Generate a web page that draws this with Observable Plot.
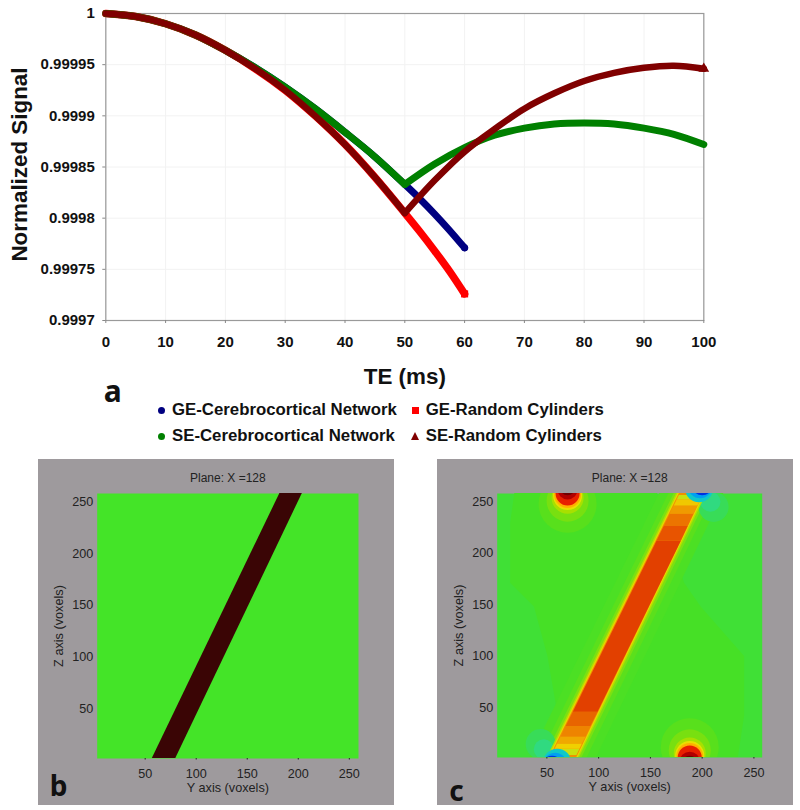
<!DOCTYPE html>
<html>
<head>
<meta charset="utf-8">
<script src="https://cdn.jsdelivr.net/npm/d3@7"></script>
<script src="https://cdn.jsdelivr.net/npm/@observablehq/plot@0.6"></script>
<style>
  html, body { margin: 0; padding: 0; background: #fff; }
  #page { position: relative; width: 800px; height: 810px; overflow: hidden; }
  .legend { position: absolute; font: bold 16.8px "Liberation Sans", Arial, sans-serif; color: #111; line-height: 20px; white-space: nowrap; }
  .sw { position: absolute; }
</style>
</head>
<body>
<div id="page"></div>
<script>
// ---- panel a ----
const teEarly = [0, 5, 10, 15, 20, 25, 30, 35, 40, 45, 50];
const cylEarly = [1, 0.999997, 0.99999, 0.999979, 0.999964, 0.999946, 0.999925, 0.9999, 0.999872, 0.99984, 0.999805];
const netEarly = [1, 0.999997, 0.99999, 0.999979, 0.999964, 0.999947, 0.999928, 0.999907, 0.999884, 0.99986, 0.999833];

const teGE = [50, 52.5, 55, 57.5, 60];
const geNetLate = [0.999833, 0.999819, 0.999804, 0.999788, 0.999771];
const geCylLate = [0.999805, 0.999787, 0.999768, 0.999748, 0.999726];

const teSE = [50, 55, 60, 65, 70, 75, 80, 85, 90, 95, 100];
const seNetLate = [0.999833, 0.999853, 0.999869, 0.999881, 0.999888, 0.999892, 0.999893, 0.999892, 0.999888, 0.999882, 0.999872];
const seCylLate = [0.999805, 0.999837, 0.999865, 0.999887, 0.999907, 0.999922, 0.999934, 0.999942, 0.999947, 0.999949, 0.999946];

const xTicksA = [0, 10, 20, 30, 40, 50, 60, 70, 80, 90, 100];
const yTicksA = [0.9997, 0.99975, 0.9998, 0.99985, 0.9999, 0.99995, 1];
const yTickLabelsA = ["0.9997", "0.99975", "0.9998", "0.99985", "0.9999", "0.99995", "1"];

const colBlue = "#000080", colRed = "#ff0000", colGreen = "#008000", colMaroon = "#800000";

// ---- panels b, c ----
const ticksVoxels = [50, 100, 150, 200, 250];
const bandZ = [2, 258];
const bBandLeft = [57, 182];
const bBandRight = [80, 204];
const cBandLeft = [54, 179];
const cBandRight = [78, 201];

const coreZ     = [4, 10, 15, 22, 32, 46, 212, 226, 238, 246, 252, 256];
const coreLeft  = [55, 58, 60.3, 63.8, 68.6, 75.5, 156.5, 163.3, 169.2, 173.1, 176, 178];
const coreRight = [79, 81.9, 84.3, 87.8, 92.6, 99.5, 180, 186.5, 192, 196, 199, 201];
const coreFill  = ["#c8e010", "#f0d000", "#f0a800", "#ee8400", "#e86400", "#e24000", "#e85400", "#ec7400", "#f09a00", "#f0c800", "#c8e010"];

const haloPad  = [20, 11, 6, 3.6, 2.2, 1];
const haloFill = ["#4ce024", "#5be01c", "#7ce012", "#b0e000", "#e8d800", "#f09000"];

const lobeZ     = [258, 229, 171, 148, 100, 42, 2];
const lobeLeft  = [19, 15, 15, 38, 51, 61, 62];
const lobeRight = [157, 164, 183, 199, 241, 241, 235];

const warmInset = [10, 7, 4, 2, 1, 0, -4, -6];
const warmRadius = [29, 21, 16, 14.5, 13.5, 12, 10, 8];
const warmFill = ["#58e01c", "#78e010", "#a8e000", "#e8e000", "#ffb000", "#e82000", "#b00000", "#700000"];
const warmCentres = [[70, 258, -1], [188, 2, 1]];

const coldHaloX = [[211, 208], [44, 47]];
const coldHaloInset = [13, 8];
const coldHaloRadius = [15, 10];
const coldHaloFill = ["#38dc58", "#30da80"];

const coldCoreX = [[197, 198, 200], [60, 58, 55]];
const coldCoreInset = [-5, -7, -9];
const coldCoreRadius = [14, 12, 11];
const coldCoreFill = ["#10c8c8", "#00a0f0", "#0030e0"];

const page = document.getElementById("page");
const sans = '"Liberation Sans", Arial, sans-serif';

function toRows(te, vals) { return te.map((t, i) => ({t, v: vals[i]})); }

function line(te, vals, stroke, strokeWidth = 7) {
  return Plot.line(toRows(te, vals), {x: "t", y: "v", stroke, strokeWidth, curve: "catmull-rom", strokeLinecap: "round"});
}

const plotA = Plot.plot({
  width: 800, height: 410,
  marginLeft: 105.3, marginRight: 96.7, marginTop: 13, marginBottom: 90,
  style: {position: "absolute", left: "0px", top: "0px", fontFamily: sans, background: "transparent", overflow: "visible"},
  x: {domain: [0, 100]},
  y: {domain: [0.9997, 1]},
  marks: [
    Plot.gridX(xTicksA, {stroke: "#f2f2f2", strokeOpacity: 1}),
    Plot.gridY(yTicksA, {stroke: "#f2f2f2", strokeOpacity: 1}),
    Plot.frame({stroke: "#9a9a9a", strokeWidth: 1.2}),
    Plot.axisX({ticks: xTicksA, tickSize: 3, tickPadding: 13, label: null, fontSize: 15, fontWeight: "bold", fill: "#111", stroke: "#888"}),
    Plot.axisY({ticks: yTicksA, tickFormat: d => yTickLabelsA[yTicksA.indexOf(d)], tickSize: 3, tickPadding: 8, label: null, fontSize: 15, fontWeight: "bold", fill: "#111", stroke: "#888"}),
    line(teEarly.concat(teGE.slice(1)), netEarly.concat(geNetLate.slice(1)), colBlue),
    Plot.dot([[60, geNetLate[4]]], {x: "0", y: "1", r: 3.5, fill: colBlue}),
    line(teEarly.concat(teGE.slice(1)), cylEarly.concat(geCylLate.slice(1)), colRed, 7.5),
    Plot.dot([[60, geCylLate[4]]], {x: "0", y: "1", r: 4, symbol: "square", fill: colRed}),
    line(teEarly, netEarly, colGreen),
    line(teSE, seNetLate, colGreen),
    line(teEarly, cylEarly, colMaroon, 6.5),
    line(teSE, seCylLate, colMaroon, 6.5),
    Plot.dot([[100, seCylLate[10]]], {x: "0", y: "1", r: 4, symbol: "triangle", fill: colMaroon}),
    Plot.text(["Normalized Signal"], {text: d => d, frameAnchor: "left", textAnchor: "middle", lineAnchor: "middle", rotate: -90, dx: -86, dy: -2.5, fontSize: 22.4, fontWeight: "bold", fill: "#111"}),
    Plot.text(["TE (ms)"], {text: d => d, frameAnchor: "bottom", textAnchor: "middle", lineAnchor: "middle", dy: 56, fontSize: 22.4, fontWeight: "bold", fill: "#111"}),
    Plot.text(["a"], {text: d => d, frameAnchor: "bottom-left", textAnchor: "middle", lineAnchor: "middle", dx: 7, dy: 72, fontSize: 30, fontWeight: "bold", fontFamily: '"Noto Sans", sans-serif', fill: "#111"})
  ]
});
page.appendChild(plotA);

function panelFurniture(letter, letterDx, letterDy) {
  return [
    Plot.axisX({ticks: ticksVoxels, tickSize: 1.5, tickPadding: 9, label: null, fontSize: 12.6, fill: "#222", stroke: "#222"}),
    Plot.axisY({ticks: ticksVoxels, tickSize: 0, tickPadding: 4, label: null, fontSize: 12.6, fill: "#222"}),
    Plot.text(["Plane: X =128"], {text: d => d, frameAnchor: "top", textAnchor: "middle", lineAnchor: "middle", dy: -15, fontSize: 12, fill: "#222"}),
    Plot.text(["Y axis (voxels)"], {text: d => d, frameAnchor: "bottom", textAnchor: "middle", lineAnchor: "middle", dy: 29, fontSize: 12.7, fill: "#222"}),
    Plot.text(["Z axis (voxels)"], {text: d => d, frameAnchor: "left", textAnchor: "middle", lineAnchor: "middle", rotate: -90, dx: -38.5, fontSize: 12.7, fill: "#222"}),
    Plot.text([letter], {text: d => d, frameAnchor: "bottom-left", textAnchor: "middle", lineAnchor: "middle", dx: letterDx, dy: letterDy, fontSize: 28, fontWeight: "bold", fontFamily: '"Noto Sans", sans-serif', fill: "#111"})
  ];
}

function panel(marks, box, margins, xDomain) {
  return Plot.plot({
    width: box[2], height: box[3],
    marginLeft: margins[0], marginRight: margins[1], marginTop: margins[2], marginBottom: margins[3],
    style: {position: "absolute", left: box[0] + "px", top: box[1] + "px", fontFamily: sans, background: "#9e9a9d", overflow: "visible"},
    x: {domain: xDomain},
    y: {domain: [2, 258]},
    marks
  });
}

const rect = fill => Plot.frame({fill, stroke: "none"});

const plotB = panel([
  rect("#44e428"),
  Plot.areaX(bandZ.map((z, i) => ({z, l: bBandLeft[i], r: bBandRight[i]})), {y: "z", x1: "l", x2: "r", fill: "#3a0505"}),
  ...panelFurniture("b", -38.7, 29)
], [38, 459, 356, 346], [58.7, 36, 34, 47], [3, 259]);
page.appendChild(plotB);

const ringMarks = [];
warmCentres.forEach(([x, edge, sign]) => {
  warmInset.forEach((inset, i) => {
    ringMarks.push(Plot.dot([{x, z: edge + sign * inset}], {x: "x", y: "z", r: warmRadius[i], fill: warmFill[i], clip: true}));
  });
});

function coldDots(xsByCorner, insets, radii, fills) {
  const out = [];
  xsByCorner.forEach((xs, c) => {
    const edge = c === 0 ? 258 : 2, sign = c === 0 ? -1 : 1;
    xs.forEach((x, i) => {
      out.push(Plot.dot([{x, z: edge + sign * insets[i]}], {x: "x", y: "z", r: radii[i], fill: fills[i], clip: true}));
    });
  });
  return out;
}

const haloMarks = haloPad.map((pad, i) =>
  Plot.areaX(bandZ.map((z, k) => ({z, l: cBandLeft[k] - pad, r: cBandRight[k] + pad})), {y: "z", x1: "l", x2: "r", fill: haloFill[i], clip: true})
);
const coreMarks = coreFill.map((fill, i) =>
  Plot.areaX([i, i + 1].map(k => ({z: coreZ[k], l: coreLeft[k], r: coreRight[k]})), {y: "z", x1: "l", x2: "r", fill, clip: true})
);

const plotC = panel([
  rect("#40e036"),
  Plot.areaX(lobeZ.map((z, i) => ({z, l: lobeLeft[i], r: lobeRight[i]})), {y: "z", x1: "l", x2: "r", fill: "#46e026", clip: true}),
  ...ringMarks,
  ...haloMarks.slice(0, 3),
  ...coldDots(coldHaloX, coldHaloInset, coldHaloRadius, coldHaloFill),
  ...haloMarks.slice(3),
  ...coreMarks,
  ...coldDots(coldCoreX, coldCoreInset, coldCoreRadius, coldCoreFill),
  ...panelFurniture("c", -40.7, 35)
], [437, 459, 356, 346], [59.7, 31.3, 34, 48], [2, 258]);
page.appendChild(plotC);

// ---- legend ----
const legendLabels = [
  ["GE-Cerebrocortical Network", 172, 400, "circle", colBlue, 161, 410],
  ["SE-Cerebrocortical Network", 172, 426, "circle", colGreen, 161, 436],
  ["GE-Random Cylinders", 425.7, 400, "square", colRed, 415, 410],
  ["SE-Random Cylinders", 425.7, 426, "triangle", colMaroon, 415, 436]
];
legendLabels.forEach(([label, x, y, shape, colour, sx, sy]) => {
  const t = document.createElement("div");
  t.className = "legend";
  t.style.left = x + "px"; t.style.top = y + "px";
  t.textContent = label;
  page.appendChild(t);
  const s = document.createElement("div");
  s.className = "sw";
  if (shape === "circle") {
    s.style.cssText = `left:${sx - 3.5}px;top:${sy - 3.5}px;width:7px;height:7px;border-radius:50%;background:${colour}`;
  } else if (shape === "square") {
    s.style.cssText = `left:${sx - 3.5}px;top:${sy - 3.5}px;width:7px;height:7px;background:${colour}`;
  } else {
    s.style.cssText = `left:${sx - 4}px;top:${sy - 4}px;width:0;height:0;border-left:4px solid transparent;border-right:4px solid transparent;border-bottom:8px solid ${colour}`;
  }
  page.appendChild(s);
});
</script>
</body>
</html>
